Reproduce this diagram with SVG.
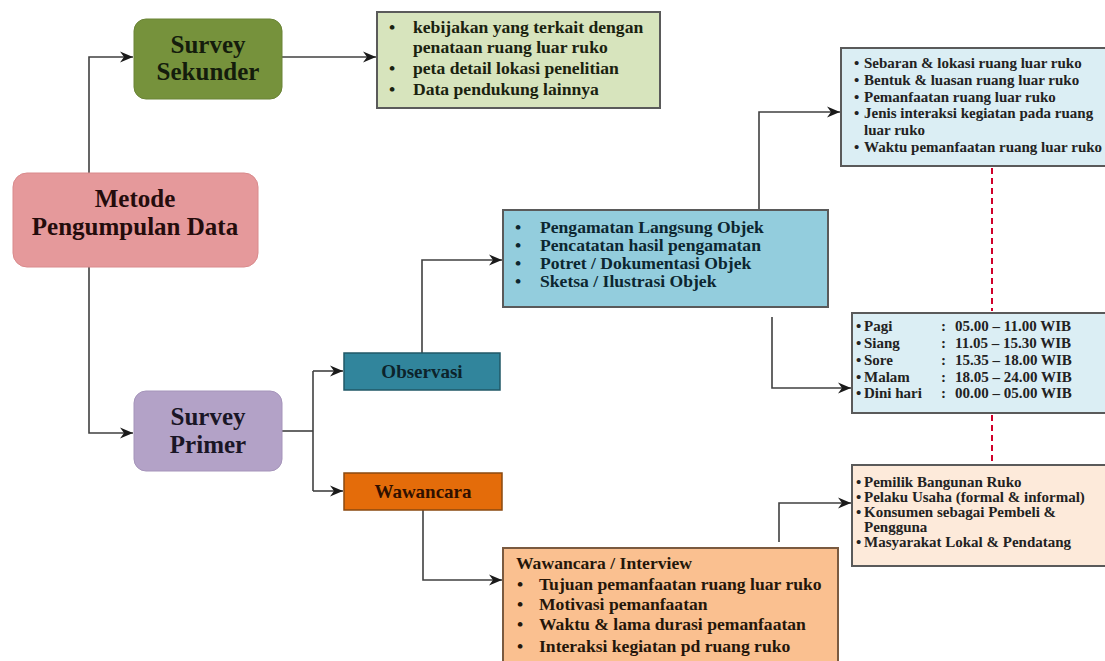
<svg xmlns="http://www.w3.org/2000/svg" width="1105" height="661" viewBox="0 0 1105 661">
<defs>
<marker id="arr" markerUnits="userSpaceOnUse" markerWidth="14" markerHeight="12" refX="13" refY="6" orient="auto">
<path d="M0,0.5 L13,6 L0,11.5 L4,6 Z" fill="#1a1a1a"/>
</marker>
<style>
text{font-family:"Liberation Serif","Times New Roman",serif;font-weight:bold;}
.conn{fill:none;stroke:#404040;stroke-width:1.6;}
.dash{fill:none;stroke:#d0002a;stroke-width:2;stroke-dasharray:6,4;}
.big{font-size:25px;text-anchor:middle;}
.mid{font-size:17.6px;}
.sm{font-size:15px;fill:#222;}
.box{stroke:#5a5a5a;stroke-width:2;}
</style>
</defs>
<rect width="1105" height="661" fill="#ffffff"/>

<g id="connectors">
<path class="conn" d="M89,173 V57 H133" marker-end="url(#arr)"/>
<path class="conn" d="M282,57 H376" marker-end="url(#arr)"/>
<path class="conn" d="M89,267 V433 H133" marker-end="url(#arr)"/>
<path class="conn" d="M282,431 H313"/>
<path class="conn" d="M313,371 V491"/>
<path class="conn" d="M313,371 H343" marker-end="url(#arr)"/>
<path class="conn" d="M313,491 H343" marker-end="url(#arr)"/>
<path class="conn" d="M422,353 V260 H502" marker-end="url(#arr)"/>
<path class="conn" d="M759,210 V112 H840" marker-end="url(#arr)"/>
<path class="conn" d="M772,317 V388 H851" marker-end="url(#arr)"/>
<path class="conn" d="M423,510 V580 H502" marker-end="url(#arr)"/>
<path class="conn" d="M779,542 V503 H851" marker-end="url(#arr)"/>
<path class="dash" d="M992,168 V311"/>
<path class="dash" d="M992,415 V463"/>
</g>

<g id="sekunder">
<rect x="134" y="19" width="148" height="80" rx="12" fill="#76923c" stroke="#6a8436" stroke-width="1"/>
<text class="big" x="208" y="53" fill="#141c0c">Survey</text>
<text class="big" x="208" y="80" fill="#141c0c">Sekunder</text>
</g>

<g id="sekunder-detail">
<rect class="box" x="377" y="12" width="283" height="96" fill="#d7e4bd"/>
<g class="mid" fill="#1a220f">
<text x="389" y="33">•</text><text x="413" y="33">kebijakan yang terkait dengan</text>
<text x="413" y="53">penataan ruang luar ruko</text>
<text x="389" y="74">•</text><text x="413" y="74">peta detail lokasi penelitian</text>
<text x="389" y="95">•</text><text x="413" y="95">Data pendukung lainnya</text>
</g>
</g>

<g id="metode">
<rect x="13" y="173" width="245" height="94" rx="14" fill="#e5999b" stroke="#d98a8c" stroke-width="1"/>
<text class="big" x="135" y="207" fill="#240c0c">Metode</text>
<text class="big" x="135" y="235" fill="#240c0c">Pengumpulan Data</text>
</g>

<g id="primer">
<rect x="134" y="391" width="148" height="80" rx="12" fill="#b3a2c7" stroke="#a594ba" stroke-width="1"/>
<text class="big" x="208" y="425" fill="#1a1626">Survey</text>
<text class="big" x="208" y="453" fill="#1a1626">Primer</text>
</g>

<g id="observasi">
<rect x="344" y="353" width="156" height="37" fill="#31859c" stroke="#205867" stroke-width="1.5"/>
<text x="422" y="378" text-anchor="middle" style="font-size:19px" fill="#0c232b">Observasi</text>
</g>

<g id="wawancara">
<rect x="344" y="473" width="158" height="37" fill="#e46c0a" stroke="#8a4a10" stroke-width="1.5"/>
<text x="423" y="498" text-anchor="middle" style="font-size:19px" fill="#301000">Wawancara</text>
</g>

<g id="observasi-detail">
<rect class="box" x="503" y="210" width="325" height="97" fill="#93cddd"/>
<g class="mid" fill="#0c2630">
<text x="515" y="233">•</text><text x="540" y="233">Pengamatan Langsung Objek</text>
<text x="515" y="251">•</text><text x="540" y="251">Pencatatan hasil pengamatan</text>
<text x="515" y="269">•</text><text x="540" y="269">Potret / Dokumentasi Objek</text>
<text x="515" y="287">•</text><text x="540" y="287">Sketsa / Ilustrasi Objek</text>
</g>
</g>

<g id="aspek">
<rect class="box" x="841" y="48" width="270" height="118" fill="#dbeef4"/>
<g class="sm">
<text x="854" y="68">•</text><text x="864" y="68">Sebaran &amp; lokasi ruang luar ruko</text>
<text x="854" y="85">•</text><text x="864" y="85">Bentuk &amp; luasan ruang luar ruko</text>
<text x="854" y="102">•</text><text x="864" y="102">Pemanfaatan ruang luar ruko</text>
<text x="854" y="118">•</text><text x="864" y="118">Jenis interaksi  kegiatan pada ruang</text>
<text x="864" y="135">luar ruko</text>
<text x="854" y="152">•</text><text x="864" y="152">Waktu pemanfaatan ruang luar ruko</text>
</g>
</g>

<g id="waktu">
<rect class="box" x="852" y="313" width="260" height="100" fill="#dbeef4"/>
<g class="sm">
<text x="856" y="331">•</text><text x="864" y="331">Pagi</text><text x="941" y="331">:</text><text x="955" y="331">05.00 – 11.00 WIB</text>
<text x="856" y="348">•</text><text x="864" y="348">Siang</text><text x="941" y="348">:</text><text x="955" y="348">11.05 – 15.30 WIB</text>
<text x="856" y="365">•</text><text x="864" y="365">Sore</text><text x="941" y="365">:</text><text x="955" y="365">15.35 – 18.00 WIB</text>
<text x="856" y="382">•</text><text x="864" y="382">Malam</text><text x="941" y="382">:</text><text x="955" y="382">18.05 – 24.00 WIB</text>
<text x="856" y="398">•</text><text x="864" y="398">Dini hari</text><text x="941" y="398">:</text><text x="955" y="398">00.00 – 05.00 WIB</text>
</g>
</g>

<g id="interview">
<rect x="503" y="548" width="335" height="125" fill="#fac090" stroke="#7a5a40" stroke-width="2"/>
<g class="mid" fill="#24160a">
<text x="516" y="569">Wawancara / Interview</text>
<text x="517" y="590">•</text><text x="539" y="590">Tujuan pemanfaatan ruang luar ruko</text>
<text x="517" y="610">•</text><text x="539" y="610">Motivasi pemanfaatan</text>
<text x="517" y="630">•</text><text x="539" y="630">Waktu &amp; lama durasi pemanfaatan</text>
<text x="517" y="652">•</text><text x="539" y="652">Interaksi kegiatan pd ruang ruko</text>
</g>
</g>

<g id="narasumber">
<rect class="box" x="852" y="465" width="260" height="101" fill="#fdeada"/>
<g class="sm">
<text x="856" y="487">•</text><text x="864" y="487">Pemilik Bangunan Ruko</text>
<text x="856" y="502">•</text><text x="864" y="502">Pelaku Usaha (formal &amp; informal)</text>
<text x="856" y="517">•</text><text x="864" y="517">Konsumen sebagai Pembeli &amp;</text>
<text x="864" y="532">Pengguna</text>
<text x="856" y="547">•</text><text x="864" y="547">Masyarakat Lokal &amp; Pendatang</text>
</g>
</g>
</svg>
